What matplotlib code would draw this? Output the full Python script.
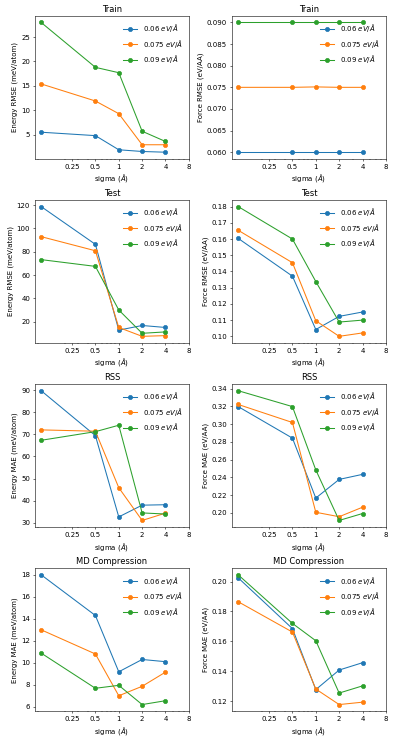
import matplotlib
matplotlib.use("Agg")
import matplotlib.pyplot as plt
from matplotlib.ticker import FixedLocator, FixedFormatter

sigma = [0.1, 0.5, 1, 2, 4]
labels = ["0.06 $eV/\\AA$", "0.075 $eV/\\AA$", "0.09 $eV/\\AA$"]
xtick_vals = [0.25, 0.5, 1, 2, 4, 8]
xtick_labels = ["0.25", "0.5", "1", "2", "4", "8"]

train_energy_006 = [5.5, 4.8, 1.9, 1.55, 1.4]
train_energy_0075 = [15.4, 11.9, 9.3, 2.93, 2.93]
train_energy_009 = [28.0, 18.8, 17.7, 5.7, 3.6]

train_force_006 = [0.060, 0.060, 0.060, 0.060, 0.060]
train_force_0075 = [0.075, 0.075, 0.0751, 0.075, 0.075]
train_force_009 = [0.090, 0.090, 0.090, 0.090, 0.090]

test_energy_006 = [118.8, 86.4, 12.8, 16.8, 15.1]
test_energy_0075 = [93.0, 80.9, 15.1, 7.5, 8.1]
test_energy_009 = [73.3, 67.5, 30.1, 10.1, 11.3]

test_force_006 = [0.1604, 0.1371, 0.1042, 0.1123, 0.1150]
test_force_0075 = [0.1654, 0.1454, 0.1096, 0.1000, 0.1021]
test_force_009 = [0.1800, 0.1600, 0.1338, 0.1088, 0.1100]

rss_energy_006 = [89.7, 69.4, 32.7, 38.0, 38.2]
rss_energy_0075 = [72.0, 71.4, 45.9, 31.1, 34.4]
rss_energy_009 = [67.3, 71.2, 74.1, 34.5, 34.0]

rss_force_006 = [0.3198, 0.2843, 0.2168, 0.2378, 0.2435]
rss_force_0075 = [0.3222, 0.3019, 0.2008, 0.1958, 0.2065]
rss_force_009 = [0.3377, 0.3198, 0.2485, 0.1916, 0.1994]

md_energy_006 = [18.0, 14.3, 9.18, 10.3, 10.1]
md_energy_0075 = [13.0, 10.8, 7.0, 7.86, 9.15]
md_energy_009 = [10.88, 7.68, 7.95, 6.2, 6.55]

md_force_006 = [0.2025, 0.1685, 0.1277, 0.1408, 0.1457]
md_force_0075 = [0.1865, 0.1662, 0.1281, 0.1177, 0.1193]
md_force_009 = [0.2045, 0.1720, 0.1604, 0.1254, 0.1302]

panels = [
    ("Train", "Energy RMSE (meV/atom)", [train_energy_006, train_energy_0075, train_energy_009]),
    ("Train", "Force RMSE (eV/AA)", [train_force_006, train_force_0075, train_force_009]),
    ("Test", "Energy RMSE (meV/atom)", [test_energy_006, test_energy_0075, test_energy_009]),
    ("Test", "Force RMSE (eV/AA)", [test_force_006, test_force_0075, test_force_009]),
    ("RSS", "Energy MAE (meV/atom)", [rss_energy_006, rss_energy_0075, rss_energy_009]),
    ("RSS", "Force MAE (eV/AA)", [rss_force_006, rss_force_0075, rss_force_009]),
    ("MD Compression", "Energy MAE (meV/atom)", [md_energy_006, md_energy_0075, md_energy_009]),
    ("MD Compression", "Force MAE (eV/AA)", [md_force_006, md_force_0075, md_force_009]),
]

fig, axes = plt.subplots(4, 2, figsize=(397 / 50, 743 / 50), dpi=50)
fig.subplots_adjust(left=0.088, right=0.972, top=0.9785, bottom=0.043,
                    wspace=0.28, hspace=0.29)

for ax, (title, ylabel, series) in zip(axes.flat, panels):
    for ys, lab in zip(series, labels):
        ax.plot(sigma, ys, marker="o", label=lab)
    ax.set_xscale("log")
    ax.set_xticks(xtick_vals)
    ax.set_xticklabels(xtick_labels)
    ax.set_title(title)
    ax.set_ylabel(ylabel)
    ax.set_xlabel("sigma ($\\AA$)")
    ax.legend(loc="upper right", frameon=False)

fig.savefig("out.png", dpi=50)
